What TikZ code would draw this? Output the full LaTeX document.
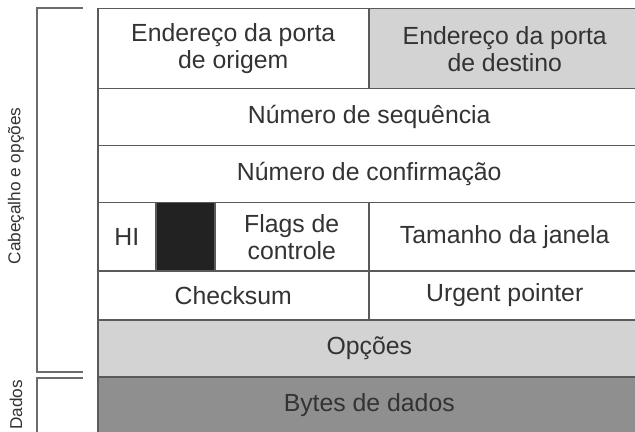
\documentclass[tikz,border=0pt]{standalone}
\usepackage{fontspec}
\setmainfont{Liberation Sans}
\definecolor{linegray}{HTML}{5A5A5A}
\definecolor{lightfill}{HTML}{D3D3D3}
\definecolor{darkfill}{HTML}{8F8F8F}
\definecolor{boxblack}{HTML}{222222}
\definecolor{textgray}{HTML}{333333}

\begin{document}
\begin{tikzpicture}[x=0.5pt,y=-0.5pt,
    cell/.style 2 args={draw=linegray,line width=0.75pt,anchor=north west,
        minimum width=#1*0.5pt,minimum height=#2*0.5pt,inner sep=0pt,align=center,
        text=textgray,font=\fontsize{12.4}{13.5}\selectfont},
    side/.style={rotate=90,text=textgray,font=\fontsize{8.6}{10}\selectfont},
    bracket/.style={draw=linegray!90,line width=0.8pt}]
    \useasboundingbox (0,0) rectangle (635,432);
    % first words of the header
    \node [cell={271}{80}] (srcport) at (97,8) {Endereço da porta\\de origem};
    \node [cell={272}{80},fill=lightfill] (dstport) at (368,8) {Endereço da porta\\de destino};
    \node [cell={543}{57}] (seqnum) at (97,88) {Número de sequência};
    \node [cell={543}{57}] (acknum) at (97,145) {Número de confirmação};
    % lengths and flags
    \node [cell={58}{68}] (hlen) at (97,202) {HI};
    \node [cell={59}{68},fill=boxblack] (reserved) at (155,202) {};
    \node [cell={154}{68}] (flags) at (214,202) {Flags de\\controle};
    \node [cell={272}{68}] (window) at (368,202) {Tamanho da janela};
    \node [cell={271}{49}] (checksum) at (97,270) {Checksum};
    \node [cell={272}{49}] (urgent) at (368,270) {Urgent pointer};
    \node [cell={543}{57},fill=lightfill] (options) at (97,319) {Opções};
    \node [cell={543}{57},fill=darkfill] (data) at (97,376) {Bytes de dados};
    % side brackets
    \draw [bracket] (83,8) -- (37,8) -- (37,372) -- (83,372);
    \draw [bracket] (83,378) -- (37,378) -- (37,440);
    \node [side] (hdrlabel) at (16,186) {Cabeçalho e opções};
    \node [side] (datalabel) at (16,405) {Dados};
\end{tikzpicture}
\end{document}
